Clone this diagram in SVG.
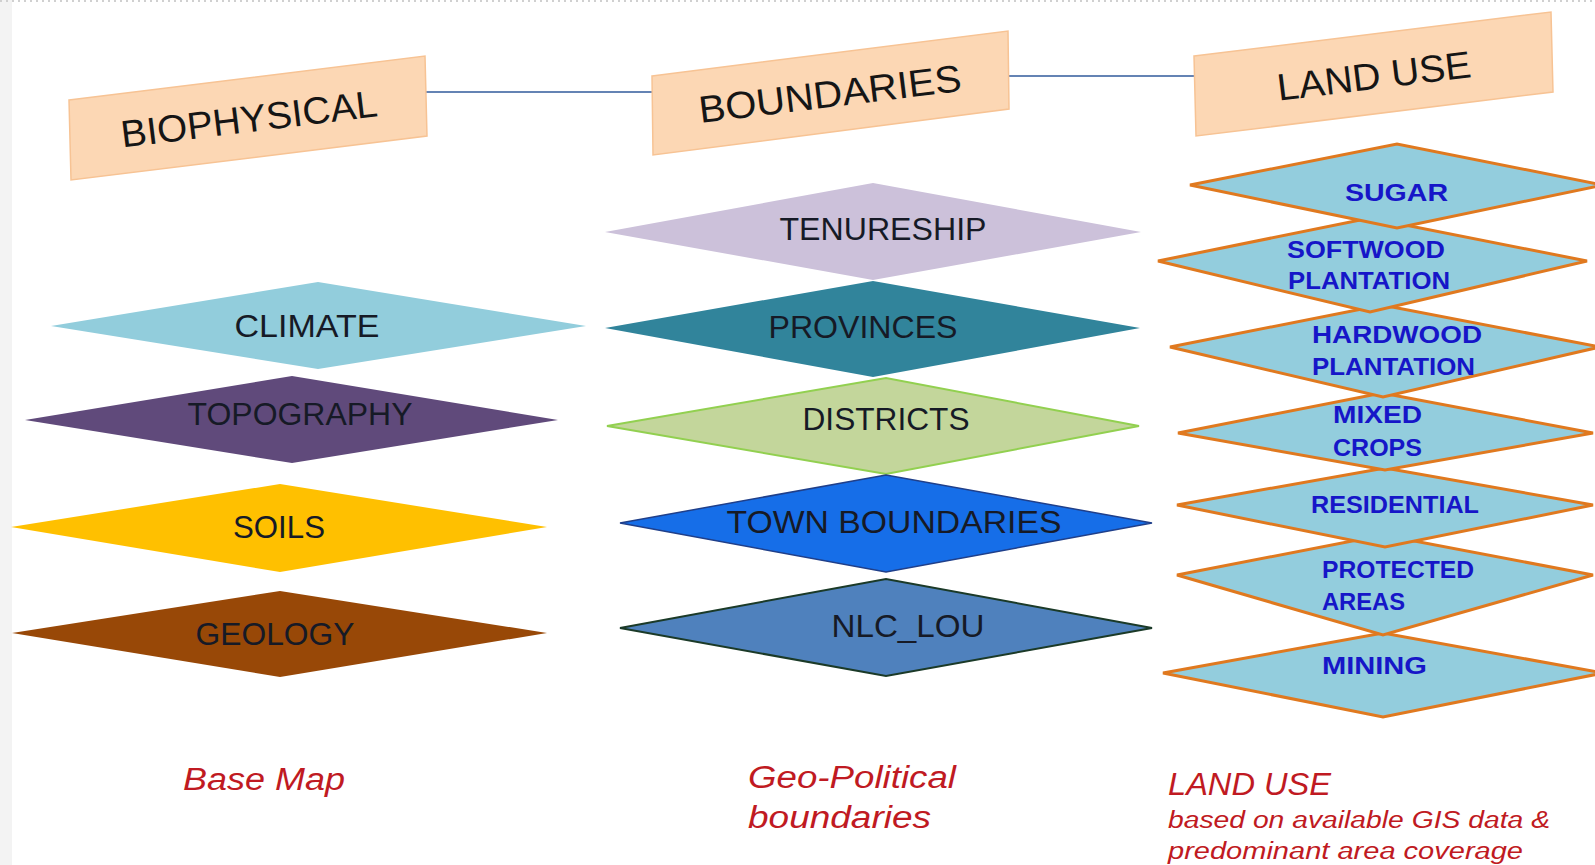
<svg xmlns="http://www.w3.org/2000/svg" width="1595" height="865" viewBox="0 0 1595 865">
<style>
.hdr{fill:#fcd7b4;stroke:#f7c394;stroke-width:1.5}
.htx{font-family:"Liberation Sans",Arial,sans-serif;font-size:38px;fill:#151515;text-anchor:middle}
.lbl{font-family:"Liberation Sans",Arial,sans-serif;font-size:32px;fill:#161a26;text-anchor:middle}
.lu{fill:#93cddd;stroke:#e0791f;stroke-width:3;stroke-linejoin:miter}
.lut{font-family:"Liberation Sans",Arial,sans-serif;font-size:24px;font-weight:bold;fill:#1616c8}
.cap{font-family:"Liberation Sans",Arial,sans-serif;font-style:italic;fill:#c01a22}
.conn{stroke:#6483b4;stroke-width:2;fill:none}
</style>
<rect x="0" y="0" width="1595" height="865" fill="#ffffff"/>
<rect x="0" y="0" width="12" height="865" fill="#f3f3f3"/>
<line x1="0" y1="1" x2="1595" y2="1" stroke="#d0d0d0" stroke-width="2" stroke-dasharray="2 4"/>

<g id="connectors">
<line class="conn" x1="425" y1="92" x2="653" y2="92"/>
<line class="conn" x1="1008" y1="76" x2="1194" y2="76"/>
</g>

<g id="biophysical">
<polygon class="hdr" points="69,100 425,56 427,136 71,180"/>
<g transform="translate(249,119) rotate(-7)"><text class="htx" x="0" y="13" textLength="258" lengthAdjust="spacingAndGlyphs">BIOPHYSICAL</text></g>
</g>
<g id="boundaries">
<polygon class="hdr" points="652,76 1008,31 1009,109 653,155"/>
<g transform="translate(830,94) rotate(-7)"><text class="htx" x="0" y="13" textLength="264" lengthAdjust="spacingAndGlyphs">BOUNDARIES</text></g>
</g>
<g id="landuse">
<polygon class="hdr" points="1194,56 1551,12 1553,92 1196,136"/>
<g transform="translate(1374,76) rotate(-7)"><text class="htx" x="0" y="13" textLength="195" lengthAdjust="spacingAndGlyphs">LAND USE</text></g>
</g>

<g id="climate">
<polygon points="51,326 318,282 586,326 318,369" fill="#92cddc"/>
<text class="lbl" x="307" y="337" textLength="145" lengthAdjust="spacingAndGlyphs">CLIMATE</text>
</g>
<g id="topography">
<polygon points="25,420 292,376 558,420 292,463" fill="#604a7b"/>
<text class="lbl" x="300" y="425" textLength="225" lengthAdjust="spacingAndGlyphs">TOPOGRAPHY</text>
</g>
<g id="soils">
<polygon points="11,527 280,484 547,527 280,572" fill="#ffc000"/>
<text class="lbl" x="279" y="538" textLength="92" lengthAdjust="spacingAndGlyphs">SOILS</text>
</g>
<g id="geology">
<polygon points="12,633 280,591 547,633 280,677" fill="#984807"/>
<text class="lbl" x="275" y="645" textLength="159" lengthAdjust="spacingAndGlyphs">GEOLOGY</text>
</g>

<g id="tenureship">
<polygon points="605,232 873,183 1141,232 873,280" fill="#ccc1da"/>
<text class="lbl" x="883" y="240" textLength="207" lengthAdjust="spacingAndGlyphs">TENURESHIP</text>
</g>
<g id="provinces">
<polygon points="605,328 873,281 1140,328 873,377" fill="#31849b"/>
<text class="lbl" x="863" y="338" textLength="189" lengthAdjust="spacingAndGlyphs">PROVINCES</text>
</g>
<g id="districts">
<polygon points="607,426 886,378 1139,426 886,474" fill="#c3d69b" stroke="#92d050" stroke-width="2"/>
<text class="lbl" x="886" y="430" textLength="167" lengthAdjust="spacingAndGlyphs">DISTRICTS</text>
</g>
<g id="town-boundaries">
<polygon points="620,523 886,475 1152,523 886,572" fill="#166ee8" stroke="#1f3f8a" stroke-width="1.5"/>
<text class="lbl" x="894" y="533" textLength="335" lengthAdjust="spacingAndGlyphs">TOWN BOUNDARIES</text>
</g>
<g id="nlc-lou">
<polygon points="620,628 886,579 1152,628 886,676" fill="#4f81bd" stroke="#1b3a28" stroke-width="2"/>
<text class="lbl" x="908" y="637" textLength="153" lengthAdjust="spacingAndGlyphs">NLC_LOU</text>
</g>

<g id="mining">
<polygon class="lu" points="1163,673 1383,633 1603,673 1383,717"/>
<text class="lut" x="1322" y="674" textLength="105" lengthAdjust="spacingAndGlyphs">MINING</text>
</g>
<g id="protected-areas">
<polygon class="lu" points="1177,575 1383,535 1593,575 1383,635"/>
<text class="lut" x="1322" y="578" textLength="152" lengthAdjust="spacingAndGlyphs">PROTECTED</text>
<text class="lut" x="1322" y="610" textLength="83" lengthAdjust="spacingAndGlyphs">AREAS</text>
</g>
<g id="residential">
<polygon class="lu" points="1177,505 1385,468 1593,505 1385,547"/>
<text class="lut" x="1311" y="513" textLength="168" lengthAdjust="spacingAndGlyphs">RESIDENTIAL</text>
</g>
<g id="mixed-crops">
<polygon class="lu" points="1178,433 1382,393 1593,433 1385,470"/>
<text class="lut" x="1333" y="423" textLength="89" lengthAdjust="spacingAndGlyphs">MIXED</text>
<text class="lut" x="1333" y="456" textLength="89" lengthAdjust="spacingAndGlyphs">CROPS</text>
</g>
<g id="hardwood-plantation">
<polygon class="lu" points="1170,347 1382,305 1600,347 1383,397"/>
<text class="lut" x="1312" y="343" textLength="170" lengthAdjust="spacingAndGlyphs">HARDWOOD</text>
<text class="lut" x="1312" y="375" textLength="163" lengthAdjust="spacingAndGlyphs">PLANTATION</text>
</g>
<g id="softwood-plantation">
<polygon class="lu" points="1158,261 1370,218 1587,261 1370,312"/>
<text class="lut" x="1287" y="258" textLength="158" lengthAdjust="spacingAndGlyphs">SOFTWOOD</text>
<text class="lut" x="1288" y="289" textLength="162" lengthAdjust="spacingAndGlyphs">PLANTATION</text>
</g>
<g id="sugar">
<polygon class="lu" points="1190,185 1397,144 1603,185 1397,228"/>
<text class="lut" x="1345" y="201" textLength="103" lengthAdjust="spacingAndGlyphs">SUGAR</text>
</g>

<g id="captions">
<text class="cap" x="183" y="790" font-size="31" textLength="162" lengthAdjust="spacingAndGlyphs">Base Map</text>
<text class="cap" x="748" y="788" font-size="31" textLength="208" lengthAdjust="spacingAndGlyphs">Geo-Political</text>
<text class="cap" x="748" y="828" font-size="31" textLength="183" lengthAdjust="spacingAndGlyphs">boundaries</text>
<text class="cap" x="1168" y="795" font-size="32" textLength="163" lengthAdjust="spacingAndGlyphs">LAND USE</text>
<text class="cap" x="1168" y="828" font-size="23" textLength="382" lengthAdjust="spacingAndGlyphs">based on available GIS data &amp;</text>
<text class="cap" x="1168" y="859" font-size="23" textLength="355" lengthAdjust="spacingAndGlyphs">predominant area coverage</text>
</g>
</svg>
